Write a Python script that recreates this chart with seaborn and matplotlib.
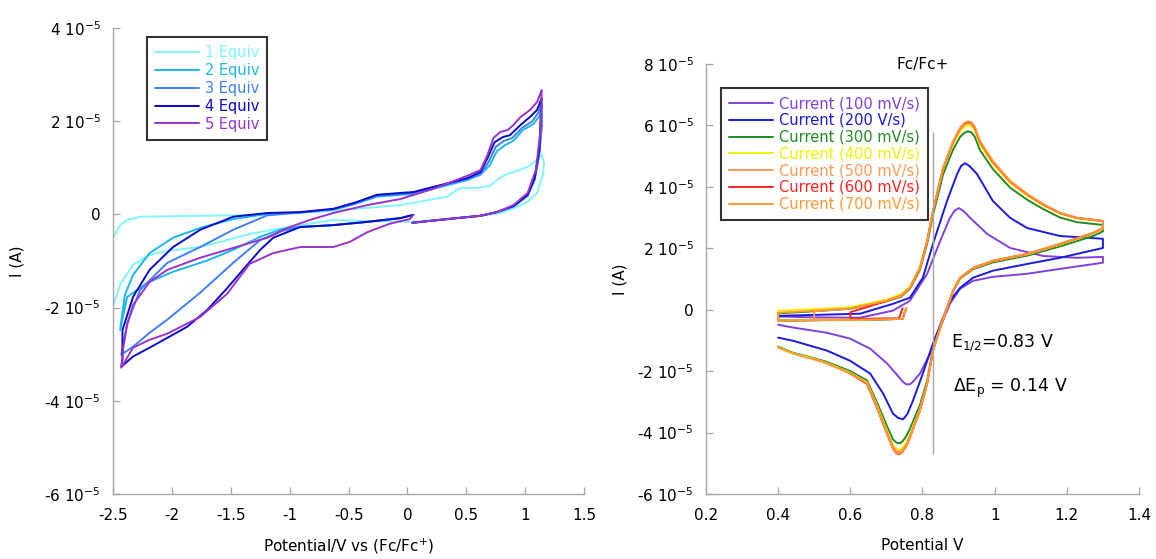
import matplotlib
matplotlib.use('Agg')
import matplotlib.pyplot as plt
import pandas as pd
import seaborn as sns
from matplotlib.ticker import FuncFormatter, MultipleLocator

sns.set_style('ticks')
plt.rcParams['font.family'] = ['DejaVu Sans']
plt.rcParams['axes.unicode_minus'] = False
plt.rcParams['mathtext.default'] = 'regular'
plt.rcParams['text.color'] = 'black'
plt.rcParams['axes.labelcolor'] = 'black'

# ---------------- left panel: titration (currents in units of 1e-5 A) ----------------
equiv_labels = ['1 Equiv', '2 Equiv', '3 Equiv', '4 Equiv', '5 Equiv']
equiv_colors = ['#80f4ff', '#1ab8f0', '#3f80f5', '#0a0ac8', '#9933cc']

v_eq1 = [0.04, 0.34, 0.62, 0.79, 0.91, 1.02, 1.10, 1.15, 1.16, 1.14,
         1.10, 1.02, 0.90, 0.83, 0.76, 0.70, 0.59, 0.47, 0.42, 0.34, -0.06, -0.63, -1.19, -1.76, -2.27, -2.38, -2.44, -2.50, -2.58,
         -2.50, -2.44, -2.33, -2.19, -2.04, -1.76, -1.53, -1.34, -1.14, -0.91, -0.63, -0.34, 0.02]
i_eq1 = [-0.16, -0.10, -0.03, 0.03, 0.14, 0.27, 0.46, 0.85, 1.10, 1.28,
         1.17, 1.02, 0.91, 0.85, 0.74, 0.61, 0.57, 0.57, 0.53, 0.38, 0.20, 0.08, -0.01, -0.03, -0.05, -0.12, -0.23, -0.50, -1.30,
         -1.98, -1.51, -1.08, -0.87, -0.78, -0.70, -0.55, -0.42, -0.33, -0.23, -0.12, -0.14, -0.16]

v_eq2 = [0.04, 0.34, 0.62, 0.76, 0.90, 1.02, 1.08, 1.12, 1.14, 1.14,
         1.12, 1.07, 0.98, 0.90, 0.83, 0.76, 0.70, 0.62, 0.51, 0.36, 0.22, 0.05, -0.06, -0.26, -0.45, -0.63, -0.91, -1.19,
         -1.48, -1.76, -1.99, -2.19, -2.33, -2.40, -2.44,
         -2.38, -2.21, -1.99, -1.70, -1.48, -1.25, -1.06, -0.91, -0.63, -0.34, -0.06, 0.05]
i_eq2 = [-0.18, -0.10, -0.03, 0.05, 0.17, 0.40, 0.74, 1.30, 1.85, 2.28,
         2.11, 1.94, 1.81, 1.58, 1.49, 1.36, 1.06, 0.85, 0.74, 0.64, 0.55, 0.44, 0.42, 0.38, 0.22, 0.10, 0.04, 0.01,
         -0.10, -0.29, -0.50, -0.83, -1.30, -1.73, -2.48,
         -1.77, -1.47, -1.23, -0.99, -0.76, -0.48, -0.31, -0.27, -0.23, -0.16, -0.08, -0.01]

v_eq3 = [0.04, 0.34, 0.62, 0.76, 0.90, 1.02, 1.08, 1.12, 1.14, 1.14,
         1.11, 1.06, 0.97, 0.89, 0.82, 0.75, 0.69, 0.62, 0.51, 0.36, 0.22, 0.05, -0.06, -0.26, -0.45, -0.63, -0.91, -1.19,
         -1.48, -1.76, -2.04, -2.27, -2.38, -2.43,
         -2.33, -2.19, -2.04, -1.76, -1.48, -1.25, -1.06, -0.91, -0.63, -0.34, -0.06, 0.05]
i_eq3 = [-0.18, -0.10, -0.03, 0.05, 0.17, 0.40, 0.76, 1.36, 1.94, 2.39,
         2.18, 2.00, 1.85, 1.64, 1.58, 1.45, 1.13, 0.87, 0.76, 0.66, 0.57, 0.46, 0.44, 0.40, 0.23, 0.11, 0.04, -0.02,
         -0.33, -0.70, -1.04, -1.62, -2.33, -3.01,
         -2.84, -2.54, -2.26, -1.68, -1.04, -0.55, -0.35, -0.27, -0.23, -0.16, -0.08, -0.01]

v_eq4 = [0.04, 0.34, 0.62, 0.76, 0.90, 1.02, 1.08, 1.12, 1.13, 1.14,
         1.10, 1.04, 0.96, 0.87, 0.81, 0.74, 0.68, 0.62, 0.51, 0.36, 0.22, 0.05, -0.06, -0.26, -0.45, -0.63, -0.91, -1.19,
         -1.48, -1.76, -1.99, -2.19, -2.33, -2.42, -2.42, -2.43,
         -2.33, -2.19, -2.04, -1.87, -1.70, -1.53, -1.36, -1.25, -1.14, -0.91, -0.63, -0.34, -0.06, 0.05]
i_eq4 = [-0.18, -0.10, -0.03, 0.05, 0.18, 0.42, 0.78, 1.39, 2.03, 2.50,
         2.24, 2.09, 1.92, 1.70, 1.66, 1.55, 1.21, 0.91, 0.78, 0.68, 0.59, 0.48, 0.46, 0.42, 0.25, 0.12, 0.05, 0.03,
         -0.05, -0.33, -0.70, -1.19, -1.77, -2.48, -3.12, -3.27,
         -3.05, -2.86, -2.65, -2.41, -2.05, -1.58, -1.08, -0.76, -0.50, -0.27, -0.23, -0.16, -0.08, -0.01]

v_eq5 = [0.04, 0.34, 0.62, 0.76, 0.90, 1.02, 1.09, 1.13, 1.14,
         1.10, 1.04, 0.96, 0.90, 0.85, 0.79, 0.73, 0.68, 0.62, 0.51, 0.22, -0.06, -0.34, -0.63, -0.83, -1.02, -1.19, -1.48,
         -1.76, -2.04, -2.19, -2.33, -2.38, -2.41, -2.43,
         -2.33, -2.19, -2.04, -1.76, -1.53, -1.34, -1.14, -0.91, -0.63, -0.49, -0.34, -0.15, 0.02, 0.05]
i_eq5 = [-0.18, -0.10, -0.03, 0.05, 0.20, 0.46, 0.95, 1.81, 2.67,
         2.41, 2.24, 2.09, 1.92, 1.81, 1.77, 1.64, 1.28, 0.95, 0.83, 0.55, 0.33, 0.20, 0.03, -0.12, -0.29, -0.50, -0.72,
         -0.93, -1.19, -1.45, -1.94, -2.37, -2.80, -3.29,
         -2.86, -2.69, -2.56, -2.20, -1.70, -1.06, -0.83, -0.70, -0.70, -0.59, -0.38, -0.20, -0.10, -0.01]

# ---------------- right panel: Fc/Fc+ scan rates (currents in units of 1e-5 A) ----------------
rate_labels = ['Current (100 mV/s)', 'Current (200 V/s)', 'Current (300 mV/s)', 'Current (400 mV/s)',
               'Current (500 mV/s)', 'Current (600 mV/s)', 'Current (700 mV/s)']
rate_colors = ['#8040e0', '#1a1ae0', '#228b22', '#f0f000', '#ff9955', '#ff2222', '#ff9933']

v_100 = [0.755, 0.745, 0.60, 0.40,
         0.40, 0.50, 0.627, 0.718, 0.765, 0.813, 0.849, 0.876, 0.889, 0.901, 0.915, 0.932, 0.979, 1.043, 1.134, 1.228, 1.30,
         1.30, 1.181, 1.09, 0.995, 0.94, 0.904, 0.876, 0.849, 0.821, 0.793, 0.774, 0.765, 0.755, 0.745, 0.738, 0.702, 0.655,
         0.599, 0.535, 0.441, 0.40]
i_100 = [0.05, -0.30, -0.33, -0.35,
         -0.22, -0.25, -0.26, -0.03, 0.29, 1.17, 2.24, 2.99, 3.22, 3.31, 3.20, 2.99, 2.47, 2.01, 1.75, 1.69, 1.72,
         1.53, 1.33, 1.17, 1.07, 0.94, 0.68, 0.19, -0.58, -1.43, -2.08, -2.34, -2.43, -2.43, -2.34, -2.24, -1.75, -1.27,
         -0.94, -0.75, -0.58, -0.49]

v_200 = [0.755, 0.745, 0.60, 0.40,
         0.40, 0.50, 0.627, 0.718, 0.765, 0.801, 0.829, 0.868, 0.896, 0.907, 0.918, 0.930, 0.951, 0.995, 1.043, 1.09, 1.181, 1.30,
         1.30, 1.181, 1.09, 0.995, 0.94, 0.904, 0.876, 0.857, 0.829, 0.801, 0.774, 0.758, 0.746, 0.732, 0.718, 0.691, 0.655,
         0.599, 0.535, 0.441, 0.40]
i_200 = [0.05, -0.30, -0.33, -0.35,
         -0.20, -0.17, -0.13, 0.19, 0.39, 1.04, 2.14, 3.54, 4.42, 4.68, 4.77, 4.68, 4.42, 3.54, 2.99, 2.66, 2.40, 2.31,
         2.01, 1.69, 1.49, 1.27, 1.04, 0.71, 0.29, -0.26, -1.10, -2.08, -2.95, -3.40, -3.57, -3.52, -3.38, -2.73, -2.08,
         -1.66, -1.33, -1.01, -0.91]

# shared potential grids for the faster scans
v_fwd = [0.40, 0.50, 0.60, 0.70, 0.74, 0.765, 0.793, 0.813, 0.829, 0.857, 0.885, 0.904, 0.915, 0.926, 0.936, 0.945,
         0.959, 0.995, 1.043, 1.09, 1.134, 1.181, 1.228, 1.30]
v_ret = [1.30, 1.273, 1.181, 1.09, 0.995, 0.94, 0.904, 0.885, 0.868, 0.849, 0.829, 0.813, 0.793, 0.765, 0.756,
         0.746, 0.738, 0.728, 0.718, 0.702, 0.674, 0.646, 0.60, 0.535, 0.50, 0.441, 0.40]
v_start = [0.755, 0.745, 0.60, 0.40]
i_start = [0.05, -0.30, -0.33, -0.35]

i_300_fwd = [-0.12, -0.05, 0.03, 0.27, 0.42, 0.68, 1.30, 2.15, 3.08, 4.40, 5.22, 5.62, 5.75, 5.81, 5.77, 5.63,
             5.20, 4.58, 3.97, 3.58, 3.28, 3.00, 2.85, 2.76]
i_300_ret = [2.55, 2.40, 2.06, 1.76, 1.54, 1.32, 1.01, 0.60, 0.05, -0.57, -1.28, -2.30, -3.10, -3.88, -4.10,
             -4.27, -4.35, -4.33, -4.22, -3.80, -3.02, -2.30, -2.00, -1.70, -1.58, -1.40, -1.20]
i_400_fwd = [-0.03, 0.02, 0.08, 0.33, 0.50, 0.75, 1.38, 2.25, 3.22, 4.58, 5.40, 5.80, 5.94, 6.00, 5.96, 5.82,
             5.38, 4.75, 4.12, 3.72, 3.40, 3.12, 2.97, 2.88]
i_400_ret = [2.64, 2.48, 2.12, 1.80, 1.58, 1.35, 1.03, 0.62, 0.06, -0.58, -1.32, -2.38, -3.22, -4.08, -4.30,
             -4.47, -4.55, -4.53, -4.40, -3.95, -3.12, -2.36, -2.05, -1.73, -1.60, -1.42, -1.22]
i_500_fwd = [-0.05, 0.04, 0.28, 0.44, 0.70, 1.35, 2.22, 3.20, 4.60, 5.45, 5.88, 6.02, 6.08, 6.04, 5.90,
             5.45, 4.80, 4.16, 3.75, 3.42, 3.14, 2.98, 2.89]
i_500_ret = [2.65, 2.49, 2.13, 1.81, 1.58, 1.35, 1.03, 0.62, 0.06, -0.58, -1.33, -2.39, -3.26, -4.14, -4.38,
             -4.55, -4.62, -4.60, -4.46, -4.00, -3.15, -2.38, -2.07, -1.74, -1.60]
i_600_fwd = [-0.08, 0.28, 0.45, 0.70, 1.36, 2.23, 3.20, 4.60, 5.47, 5.90, 6.05, 6.12, 6.08, 5.93,
             5.47, 4.82, 4.18, 3.76, 3.43, 3.15, 2.99, 2.89]
i_600_ret = [2.66, 2.50, 2.14, 1.82, 1.59, 1.36, 1.04, 0.62, 0.06, -0.58, -1.33, -2.40, -3.28, -4.16, -4.42,
             -4.60, -4.70, -4.68, -4.52, -4.05, -3.20, -2.42, -2.08]
i_700_fwd = [-0.10, -0.03, 0.04, 0.29, 0.45, 0.71, 1.36, 2.24, 3.21, 4.61, 5.49, 5.91, 6.07, 6.14, 6.10, 5.95,
             5.49, 4.84, 4.19, 3.77, 3.44, 3.15, 2.99, 2.89]
i_700_ret = [2.66, 2.50, 2.14, 1.82, 1.59, 1.36, 1.04, 0.62, 0.06, -0.58, -1.33, -2.40, -3.28, -4.16, -4.40,
             -4.58, -4.68, -4.66, -4.50, -4.03, -3.18, -2.40, -2.08, -1.75, -1.62, -1.43, -1.23]

E_HALF = 0.83
E_LINE_SPAN = (-4.7, 5.8)


def build(curves):
    rows = []
    for name, v, i in curves:
        rows.append(pd.DataFrame({'V': v, 'I': [x * 1e-5 for x in i], 'curve': name}))
    return pd.concat(rows, ignore_index=True)


left_df = build(list(zip(equiv_labels, [v_eq1, v_eq2, v_eq3, v_eq4, v_eq5],
                         [i_eq1, i_eq2, i_eq3, i_eq4, i_eq5])))

right_df = build([
    (rate_labels[0], v_100, i_100),
    (rate_labels[1], v_200, i_200),
    (rate_labels[2], v_start + v_fwd + v_ret, i_start + i_300_fwd + i_300_ret),
    (rate_labels[3], v_start + v_fwd + v_ret, i_start + i_400_fwd + i_400_ret),
    (rate_labels[4], [0.755, 0.745, 0.50] + v_fwd[1:] + v_ret[:25], [0.05, -0.30, -0.32] + i_500_fwd + i_500_ret),
    (rate_labels[5], [0.745, 0.735, 0.60] + v_fwd[2:] + v_ret[:23], [0.05, -0.28, -0.30] + i_600_fwd + i_600_ret),
    (rate_labels[6], v_start + v_fwd + v_ret, i_start + i_700_fwd + i_700_ret),
])


def sci_fmt(v, pos):
    n = int(round(v * 1e5))
    return '0' if n == 0 else f'{n} 10$^{{-5}}$'


def style_axis(ax):
    sns.despine(ax=ax)
    for s in ['left', 'bottom']:
        ax.spines[s].set_color('#a6a6a6')
        ax.spines[s].set_linewidth(1.0)
    ax.tick_params(direction='in', length=5, width=0.9, color='#a6a6a6', labelcolor='black', labelsize=11)
    ax.tick_params(axis='x', pad=10)
    ax.tick_params(axis='y', pad=9)
    ax.yaxis.set_major_locator(MultipleLocator(2e-5))
    ax.yaxis.set_major_formatter(FuncFormatter(sci_fmt))
    ax.xaxis.set_major_formatter(FuncFormatter(lambda v, p: f'{v:g}'))


def style_legend(ax, anchor, fs, spacing):
    handles, labels = ax.get_legend_handles_labels()
    leg = ax.legend(handles, labels, loc='upper left', bbox_to_anchor=anchor, borderaxespad=0,
                    frameon=True, fancybox=False, framealpha=1, edgecolor='#333333',
                    labelcolor='linecolor', fontsize=fs, handlelength=3.0, handletextpad=0.4,
                    borderpad=0.55, labelspacing=spacing)
    leg.get_frame().set_linewidth(1.5)


fig = plt.figure(figsize=(11.56, 5.59), dpi=100)
ax1 = fig.add_axes([0.0978, 0.1163, 0.4075, 0.8336])
ax2 = fig.add_axes([0.6107, 0.1163, 0.3746, 0.7692])

sns.lineplot(data=left_df, x='V', y='I', hue='curve', palette=equiv_colors, sort=False,
             estimator=None, linewidth=1.4, ax=ax1)
style_axis(ax1)
ax1.set_xlim(-2.5, 1.5)
ax1.set_ylim(-6e-5, 4e-5)
ax1.xaxis.set_major_locator(MultipleLocator(0.5))
ax1.set_xlabel('Potential/V vs (Fc/Fc$^{+}$)', fontsize=11, labelpad=10)
ax1.set_ylabel('I (A)', fontsize=11, labelpad=14)
style_legend(ax1, (0.072, 0.981), 10.5, 0.2)

sns.lineplot(data=right_df, x='V', y='I', hue='curve', palette=rate_colors, sort=False,
             estimator=None, linewidth=1.4, ax=ax2)
style_axis(ax2)
ax2.set_xlim(0.2, 1.4)
ax2.set_ylim(-6e-5, 8e-5)
ax2.xaxis.set_major_locator(MultipleLocator(0.2))
ax2.set_xlabel('Potential V', fontsize=11, labelpad=11)
ax2.set_ylabel('I (A)', fontsize=11, labelpad=7)
ax2.vlines(E_HALF, E_LINE_SPAN[0] * 1e-5, E_LINE_SPAN[1] * 1e-5, color='#a6a6a6', linewidth=1.0)
ax2.text(0.879, -1.23e-5, 'E$_{1/2}$=0.83 V', fontsize=12.5, va='baseline')
ax2.text(0.885, -2.69e-5, 'ΔE$_p$ = 0.14 V', fontsize=12.5, va='baseline')
ax2.text(0.5, 1.0, 'Fc/Fc+', transform=ax2.transAxes, ha='center', va='center', fontsize=11)
style_legend(ax2, (0.035, 0.944), 10.5, 0.12)

fig.savefig('out.png', dpi=100)
